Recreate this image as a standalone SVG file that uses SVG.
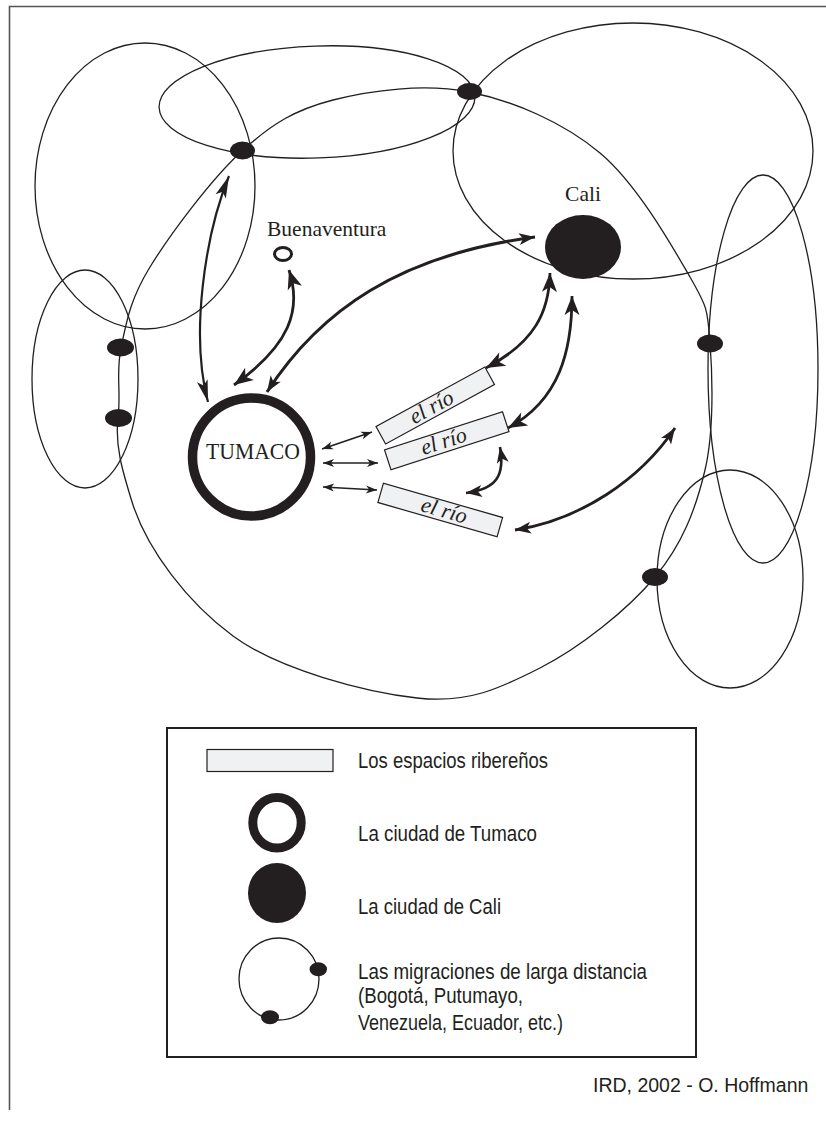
<svg xmlns="http://www.w3.org/2000/svg" width="826" height="1123" viewBox="0 0 826 1123">
<style>
.ln{fill:none;stroke:#231f20;stroke-width:1.3}
.nd{fill:#231f20}
.arw{fill:none;stroke:#231f20;stroke-linecap:butt}
.box{fill:#f0f1f3;stroke:#231f20;stroke-width:1.2}
.serif{font-family:"Liberation Serif","Times New Roman",serif;fill:#231f20}
.rio{font-family:"Liberation Serif","Times New Roman",serif;font-style:italic;font-size:22px;fill:#231f20}
.leg{font-family:"Liberation Sans",Arial,sans-serif;font-size:21.5px;fill:#231f20}
</style>
<defs>
<marker id="hL" viewBox="-20 -8 22 16" refX="0" refY="0" markerWidth="22" markerHeight="16" markerUnits="userSpaceOnUse" orient="auto-start-reverse" overflow="visible">
<path d="M0,0 L-19,-7.5 L-14,0 L-19,7.5 Z" fill="#231f20"/>
</marker>
<marker id="hM" viewBox="-20 -8 22 16" refX="0" refY="0" markerWidth="22" markerHeight="16" markerUnits="userSpaceOnUse" orient="auto-start-reverse" overflow="visible">
<path d="M0,0 L-16,-6 L-12,0 L-16,6 Z" fill="#231f20"/>
</marker>
<marker id="hN" viewBox="-24 -8 26 16" refX="0" refY="0" markerWidth="26" markerHeight="16" markerUnits="userSpaceOnUse" orient="auto-start-reverse" overflow="visible">
<path d="M0,0 L-22,-5.5 L-17,0 L-22,5.5 Z" fill="#231f20"/>
</marker>
<marker id="hS" viewBox="-14 -6 16 12" refX="0" refY="0" markerWidth="16" markerHeight="12" markerUnits="userSpaceOnUse" orient="auto-start-reverse" overflow="visible">
<path d="M0,0 L-11,-4 L-8,0 L-11,4 Z" fill="#231f20"/>
</marker>
</defs>
<rect width="826" height="1123" fill="#fff"/>
<g id="frame">
<path d="M9.5,1110 V6.5 H826" fill="none" stroke="#555" stroke-width="1.6"/>
</g>
<g id="migration-loops">
<ellipse class="ln" cx="145" cy="186" rx="110" ry="143"/>
<ellipse class="ln" cx="317" cy="102" rx="158" ry="56" transform="rotate(-2 317 102)"/>
<ellipse class="ln" cx="633" cy="151" rx="180" ry="128"/>
<ellipse class="ln" cx="85" cy="379" rx="53" ry="109"/>
<ellipse class="ln" cx="763" cy="369" rx="55" ry="194"/>
<ellipse class="ln" cx="730" cy="579" rx="73" ry="109"/>
<path class="ln" d="M242,151 C272.5,123.2 295.2,109.8 333,100 C370.8,90.2 424.5,83.2 469,92 C513.5,100.8 563.2,122.2 600,153 C636.8,183.8 671.7,245.3 690,277 C708.3,308.7 707.5,310.8 710,343 C712.5,375.2 714.2,431 705,470 C695.8,509 682.5,544 655,577 C627.5,610 579.7,647.8 540,668 C500.3,688.2 468.2,703.8 417,698 C365.8,692.2 279.2,670 233,636 C186.8,602 148,550 133,505 C122,470 114.8,445 118,418 C121.2,391 115.7,373.2 121,348 C126.3,322.8 129.8,299.8 150,267 C170.2,234.2 211.5,178.8 242,151 Z"/>
</g>
<g id="migration-nodes">
<ellipse class="nd" cx="242.5" cy="150.5" rx="12.5" ry="9"/>
<ellipse class="nd" cx="469.5" cy="91.5" rx="12.5" ry="8.5"/>
<ellipse class="nd" cx="710" cy="343.5" rx="13" ry="9"/>
<ellipse class="nd" cx="655" cy="577" rx="13" ry="9"/>
<ellipse class="nd" cx="120.5" cy="347.5" rx="13.5" ry="9"/>
<ellipse class="nd" cx="118.5" cy="418" rx="13.5" ry="9"/>
</g>
<g id="connectors">
<path class="arw" stroke-width="2.2" marker-start="url(#hN)" marker-end="url(#hN)" d="M229,176 C205,235 190,335 208,402"/>
<path class="arw" stroke-width="2.8" marker-start="url(#hL)" marker-end="url(#hL)" d="M289,270 C302,310 290,345 234,385"/>
<path class="arw" stroke-width="3" marker-start="url(#hM)" marker-end="url(#hM)" d="M267,392 C320,310 400,255 535,237"/>
<path class="arw" stroke-width="2.8" marker-start="url(#hL)" marker-end="url(#hL)" d="M550,273 C549,312 535,342 486,368"/>
<path class="arw" stroke-width="2.8" marker-start="url(#hL)" marker-end="url(#hL)" d="M572,296 C572,350 560,400 508,428"/>
<path class="arw" stroke-width="2.6" marker-start="url(#hM)" marker-end="url(#hM)" d="M500,447 C505,475 497,489 466,493"/>
<path class="arw" stroke-width="2.8" marker-start="url(#hM)" marker-end="url(#hM)" d="M515,530 C580,520 640,480 675,428"/>
<path class="arw" stroke-width="1.6" marker-start="url(#hS)" marker-end="url(#hS)" d="M322,449 L372,432"/>
<path class="arw" stroke-width="1.6" marker-start="url(#hS)" marker-end="url(#hS)" d="M323,463 L378,463"/>
<path class="arw" stroke-width="1.6" marker-start="url(#hS)" marker-end="url(#hS)" d="M323,487 L377,490"/>
</g>
<g id="cali">
<ellipse class="nd" cx="583" cy="247" rx="38" ry="32"/>
<text class="serif" x="583" y="201" font-size="21.5" text-anchor="middle">Cali</text>
</g>
<g id="buenaventura">
<ellipse cx="283" cy="254" rx="8.5" ry="6.5" fill="#fff" stroke="#231f20" stroke-width="3"/>
<text class="serif" x="267" y="236" font-size="21.5">Buenaventura</text>
</g>
<g id="tumaco">
<circle cx="251.5" cy="457" r="59" fill="#fff" stroke="#231f20" stroke-width="9.5"/>
<text class="serif" x="206" y="459" font-size="23" textLength="94" lengthAdjust="spacingAndGlyphs">TUMACO</text>
</g>
<g id="rio1" transform="translate(435.25 405.5) rotate(-28.6)">
<rect class="box" x="-62" y="-10" width="124" height="20"/>
<text class="rio" x="-4" y="6.5" text-anchor="middle">el río</text>
</g>
<g id="rio2" transform="translate(446.75 440.75) rotate(-17.9)">
<rect class="box" x="-62" y="-10.5" width="124" height="21"/>
<text class="rio" x="-3" y="6.5" text-anchor="middle">el río</text>
</g>
<g id="rio3" transform="translate(440.25 510) rotate(16)">
<rect class="box" x="-62" y="-10" width="124" height="20"/>
<text class="rio" x="4" y="6.5" text-anchor="middle">el río</text>
</g>
<g id="legend">
<rect x="167" y="728" width="529" height="329" fill="none" stroke="#231f20" stroke-width="2"/>
<rect class="box" x="207" y="749.5" width="126" height="22"/>
<text class="leg" x="358" y="768" textLength="190" lengthAdjust="spacingAndGlyphs">Los espacios ribereños</text>
<ellipse cx="277" cy="822.7" rx="24.2" ry="25.2" fill="none" stroke="#231f20" stroke-width="9"/>
<text class="leg" x="358" y="840.5" textLength="179" lengthAdjust="spacingAndGlyphs">La ciudad de Tumaco</text>
<ellipse class="nd" cx="277" cy="893" rx="29" ry="30"/>
<text class="leg" x="358" y="914" textLength="143" lengthAdjust="spacingAndGlyphs">La ciudad de Cali</text>
<ellipse class="ln" cx="279" cy="979" rx="40" ry="41"/>
<ellipse class="nd" cx="318.3" cy="969.3" rx="8.7" ry="7"/>
<ellipse class="nd" cx="270" cy="1017.3" rx="9" ry="7"/>
<text class="leg" x="358" y="979" textLength="289" lengthAdjust="spacingAndGlyphs">Las migraciones de larga distancia</text>
<text class="leg" x="358" y="1003" textLength="165" lengthAdjust="spacingAndGlyphs">(Bogotá, Putumayo,</text>
<text class="leg" x="358" y="1030" textLength="205" lengthAdjust="spacingAndGlyphs">Venezuela, Ecuador, etc.)</text>
</g>
<g id="credit">
<text class="leg" x="593" y="1092" font-size="19.5px" style="font-size:19.5px">IRD, 2002 - O. Hoffmann</text>
</g>
</svg>
